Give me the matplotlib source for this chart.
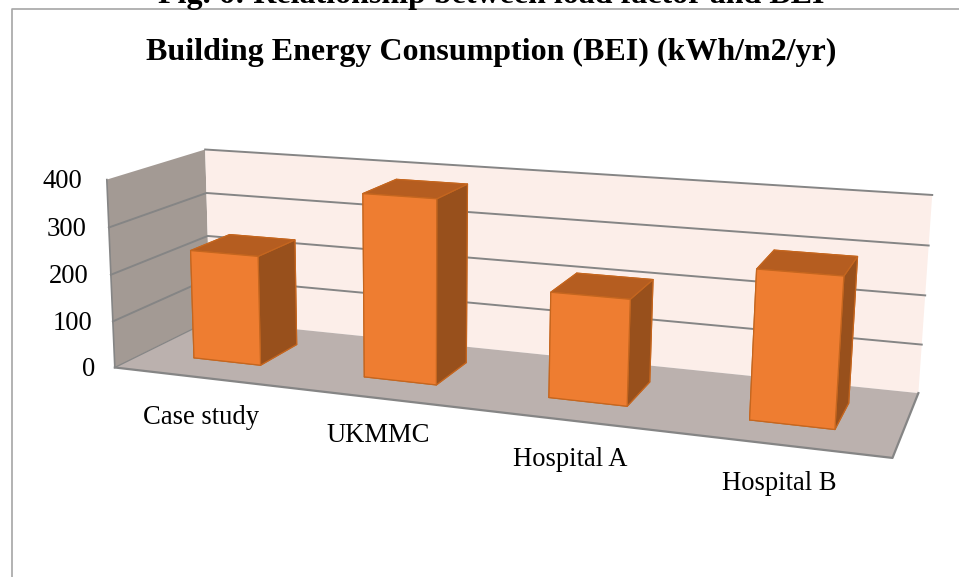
import numpy as np
import matplotlib
matplotlib.use('Agg')
import matplotlib.pyplot as plt
from matplotlib.lines import Line2D
from mpl_toolkits.mplot3d.art3d import Poly3DCollection

categories = ['Case study', 'UKMMC', 'Hospital A', 'Hospital B']
bei_values = [235, 383, 214, 293]
y_ticks = [0, 100, 200, 300, 400]

# where the labels sit on the page, in pixels
tick_label_right = [95, 92, 89, 86, 82]
tick_label_y = [369, 323, 277, 229, 182]
cat_label_x = [201, 378, 570, 779]
cat_label_y = [417, 436, 459, 483]

W, H = 959, 577
plt.rcParams['font.family'] = ['Liberation Serif', 'DejaVu Sans']

fig = plt.figure(figsize=(W / 100, H / 100), dpi=100)
ax = fig.add_axes([0, 0, 1, 1], projection='3d')
ax.apply_aspect = lambda *a, **k: None
ax.set_position([0, 0, 1, 1])
ax.set_axis_off()
ax.computed_zorder = False
# ortho only so Line3D does not clip points, the real projection is M below
ax.set_proj_type('ortho')

# camera fitted on the box corners: (x, depth, value) -> page pixel
box = [(0, 0, 0), (4, 0, 0), (0, 1, 0), (4, 1, 0), (0, 0, 400), (0, 1, 400), (4, 1, 400)]
page = [(117, 368), (892, 458), (208, 320), (919, 393), (105, 179), (207, 150), (932, 195)]
to_2d = ax.transData.inverted()
rows = []
for (bx, by, bz), (px, py) in zip(box, page):
    u, v = to_2d.transform((px, H - py))
    X = [bx, by, bz, 1]
    rows.append(X + [0, 0, 0, 0] + [-u * c for c in X])
    rows.append([0, 0, 0, 0] + X + [-v * c for c in X])
P = np.linalg.svd(np.array(rows))[2][-1].reshape(3, 4)
w_mid = P[2] @ np.array([2, 0.5, 200, 1])
if w_mid < 0:
    P = -P
    w_mid = -w_mid
depth = np.array([-0.1, 1, -0.0005, 0]) * 0.3 * w_mid
M = np.vstack([P[0], P[1], depth, P[2]])
ax.get_proj = lambda: M

# walls and floor
left_wall = [(0, 0, 0), (0, 1, 0), (0, 1, 400), (0, 0, 400)]
back_wall = [(0, 1, 0), (4, 1, 0), (4, 1, 400), (0, 1, 400)]
floor = [(0, 0, 0), (4, 0, 0), (4, 1, 0), (0, 1, 0)]
for verts, col in [(left_wall, '#A39A94'), (back_wall, '#FCEEE9'), (floor, '#BBB1AE')]:
    ax.add_collection3d(Poly3DCollection([verts], facecolor=col, edgecolor='none', zorder=1))

grid_col = '#858585'
for t in y_ticks[1:-1]:
    ax.plot([0, 0, 4], [0, 1, 1], [t, t, t], color=grid_col, lw=1.4, zorder=2)
ax.plot([0, 4], [1, 1], [400, 400], color=grid_col, lw=1.4, zorder=2)
ax.plot([0, 4, 4], [0, 0, 1], [0, 0, 0], color=grid_col, lw=1.6, zorder=2)
ax.plot([0, 0], [0, 1], [0, 0], color=grid_col, lw=0.9, zorder=2)
ax.plot([0, 0], [0, 0], [0, 400], color=grid_col, lw=1.2, zorder=2)

# bars
xs = np.arange(len(categories)) + 0.30
front, top, side = '#EE7D31', '#B55D20', '#98501C'
faces = [side, top, front, side, side, side] * len(categories)
ax.bar3d(xs, np.full(4, 0.3), np.zeros(4), 0.40, 0.42, bei_values,
         color=faces, shade=False, edgecolor='#C5661F', linewidth=0.9, zorder=3)

ax.set_xlim(0, 4)
ax.set_ylim(0, 1)
ax.set_zlim(0, 400)

# text
fig.text(491 / W, 1 - 3 / H, 'Fig. 6: Relationship between load factor and BEI',
         fontsize=23, fontweight='bold', ha='center', va='baseline', color='black')
fig.text(491.5 / W, 1 - 60 / H, 'Building Energy Consumption (BEI) (kWh/m2/yr)',
         fontsize=23, fontweight='bold', ha='center', va='baseline', color='black')
for t, xr, yc in zip(y_ticks, tick_label_right, tick_label_y):
    fig.text(xr / W, 1 - yc / H, str(t), fontsize=19.2, ha='right', va='center', color='black')
for name, xc, yc in zip(categories, cat_label_x, cat_label_y):
    fig.text(xc / W, 1 - yc / H, name, fontsize=19.2, ha='center', va='center', color='black')

# chart frame, runs off the page
fig.add_artist(Line2D([12 / W, 12 / W, 1], [0, 1 - 8.5 / H, 1 - 8.5 / H], color='#A6A6A6', lw=1.2))

fig.savefig('out.png', dpi=100)
